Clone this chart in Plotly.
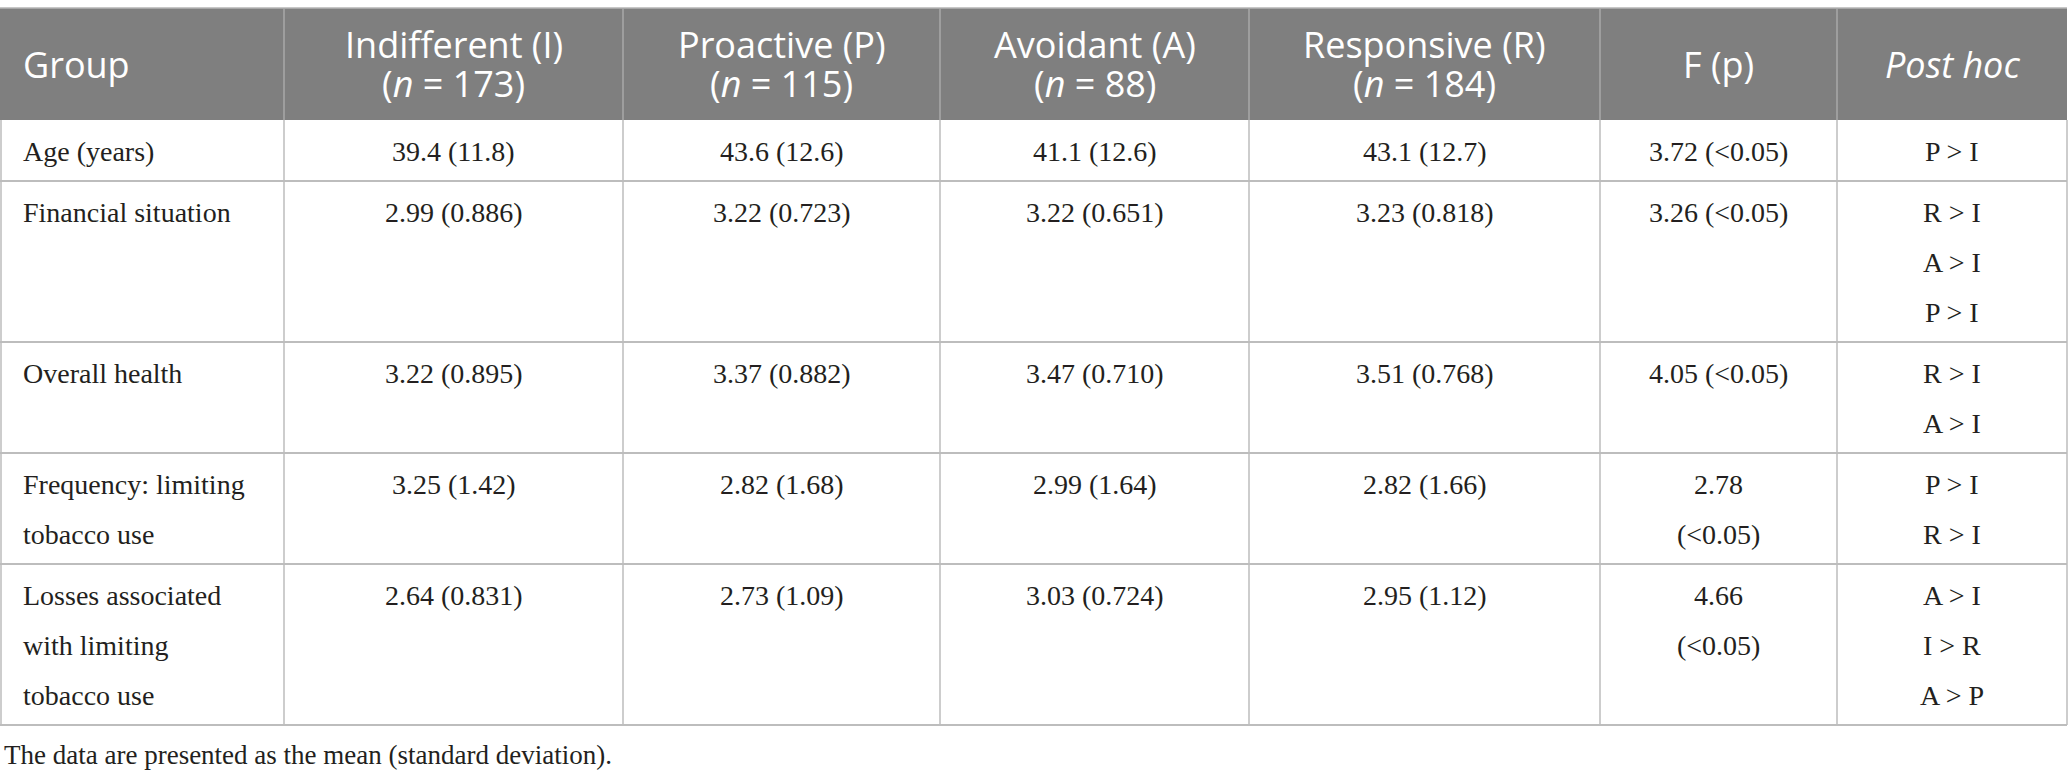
import plotly.graph_objects as go

# Table content
clusters = ["Indifferent (I)", "Proactive (P)", "Avoidant (A)", "Responsive (R)"]
cluster_n = [173, 115, 88, 184]

variables = [
    ["Age (years)"],
    ["Financial situation"],
    ["Overall health"],
    ["Frequency: limiting", "tobacco use"],
    ["Losses associated", "with limiting", "tobacco use"],
]
means = [
    ["39.4", "43.6", "41.1", "43.1"],
    ["2.99", "3.22", "3.22", "3.23"],
    ["3.22", "3.37", "3.47", "3.51"],
    ["3.25", "2.82", "2.99", "2.82"],
    ["2.64", "2.73", "3.03", "2.95"],
]
sds = [
    ["11.8", "12.6", "12.6", "12.7"],
    ["0.886", "0.723", "0.651", "0.818"],
    ["0.895", "0.882", "0.710", "0.768"],
    ["1.42", "1.68", "1.64", "1.66"],
    ["0.831", "1.09", "0.724", "1.12"],
]
f_values = ["3.72", "3.26", "4.05", "2.78", "4.66"]
p_values = ["<0.05", "<0.05", "<0.05", "<0.05", "<0.05"]
f_wrapped = [False, False, False, True, True]
post_hoc = [
    ["P > I"],
    ["R > I", "A > I", "P > I"],
    ["R > I", "A > I"],
    ["P > I", "R > I"],
    ["A > I", "I > R", "A > P"],
]
note = "The data are presented as the mean (standard deviation)."

# Layout settings (pixels)
W, H = 2068, 782
col_edges = [1, 284, 623, 940, 1249, 1600, 1837, 2067]
table_top = 8
header_h = 112
head_gap = 39
line_gap = 50
first_line = 31
row_base = 61
pad_left = 21

HEAD_FILL = "#7f7f7f"
HEAD_SEP = "#a8a8a8"
GRID = "#bdbdbd"
TEXT = "#231f20"
SANS = "Open Sans"
SERIF = "Liberation Serif"


def esc(s):
    return s.replace("<", "&lt;").replace(">", "&gt;")


# build cell text lines for each body row
body = []
for i in range(len(variables)):
    cells = [variables[i]]
    for j in range(len(clusters)):
        cells.append([f"{means[i][j]} ({sds[i][j]})"])
    if f_wrapped[i]:
        cells.append([f_values[i], f"({p_values[i]})"])
    else:
        cells.append([f"{f_values[i]} ({p_values[i]})"])
    cells.append(post_hoc[i])
    body.append(cells)

header = [["Group"]]
for c, n in zip(clusters, cluster_n):
    header.append([esc(c), f"(<i>n</i> = {n})"])
header.append(["F (p)"])
header.append(["<i>Post hoc</i>"])

fig = go.Figure()
shapes = []
annotations = []

head_bot = table_top + header_h
shapes.append(dict(type="rect", x0=0, x1=col_edges[-1], y0=table_top, y1=head_bot,
                   fillcolor=HEAD_FILL, line=dict(width=0), layer="below"))
shapes.append(dict(type="line", x0=0, x1=col_edges[-1], y0=table_top, y1=table_top,
                   line=dict(color="#b4b4b4", width=1.5)))
for x in col_edges[1:-1]:
    shapes.append(dict(type="line", x0=x, x1=x, y0=table_top, y1=head_bot,
                       line=dict(color=HEAD_SEP, width=1.5)))

# header text
head_mid = table_top + header_h / 2
for k, lines in enumerate(header):
    n_lines = len(lines)
    for li, txt in enumerate(lines):
        y = head_mid + (li - (n_lines - 1) / 2) * head_gap
        if k == 0:
            x, anchor = pad_left, "left"
        else:
            x, anchor = (col_edges[k] + col_edges[k + 1]) / 2, "center"
        annotations.append(dict(x=x, y=y, xref="x", yref="y", text=txt, showarrow=False,
                                xanchor=anchor, yanchor="middle",
                                font=dict(family=SANS, size=36, color="white")))

# body rows
y_top = head_bot
for cells in body:
    n_lines = max(len(c) for c in cells)
    row_h = row_base + line_gap * (n_lines - 1)
    for k, lines in enumerate(cells):
        for li, txt in enumerate(lines):
            y = y_top + first_line + li * line_gap
            if k == 0:
                x, anchor = pad_left, "left"
            else:
                x, anchor = (col_edges[k] + col_edges[k + 1]) / 2, "center"
            annotations.append(dict(x=x, y=y, xref="x", yref="y", text=esc(txt), showarrow=False,
                                    xanchor=anchor, yanchor="middle",
                                    font=dict(family=SERIF, size=28, color=TEXT)))
    y_bot = y_top + row_h
    for x in col_edges:
        shapes.append(dict(type="line", x0=x, x1=x, y0=y_top, y1=y_bot,
                           line=dict(color=GRID, width=1.5)))
    shapes.append(dict(type="line", x0=0, x1=col_edges[-1], y0=y_bot, y1=y_bot,
                       line=dict(color=GRID, width=2)))
    y_top = y_bot

annotations.append(dict(x=2, y=y_top + 30, xref="x", yref="y", text=note, showarrow=False,
                        xanchor="left", yanchor="middle",
                        font=dict(family=SERIF, size=27, color=TEXT)))

fig.update_layout(
    width=W,
    height=H,
    margin=dict(l=0, r=0, t=0, b=0),
    paper_bgcolor="white",
    plot_bgcolor="white",
    xaxis=dict(range=[0, W], visible=False, fixedrange=True),
    yaxis=dict(range=[H, 0], visible=False, fixedrange=True),
    shapes=shapes,
    annotations=annotations,
    showlegend=False,
)

# the page body has a default 8px margin; drop it so the table sits flush
fig.write_html("out.html", config={"displayModeBar": False},
               post_script="document.body.style.margin = '0px';")
